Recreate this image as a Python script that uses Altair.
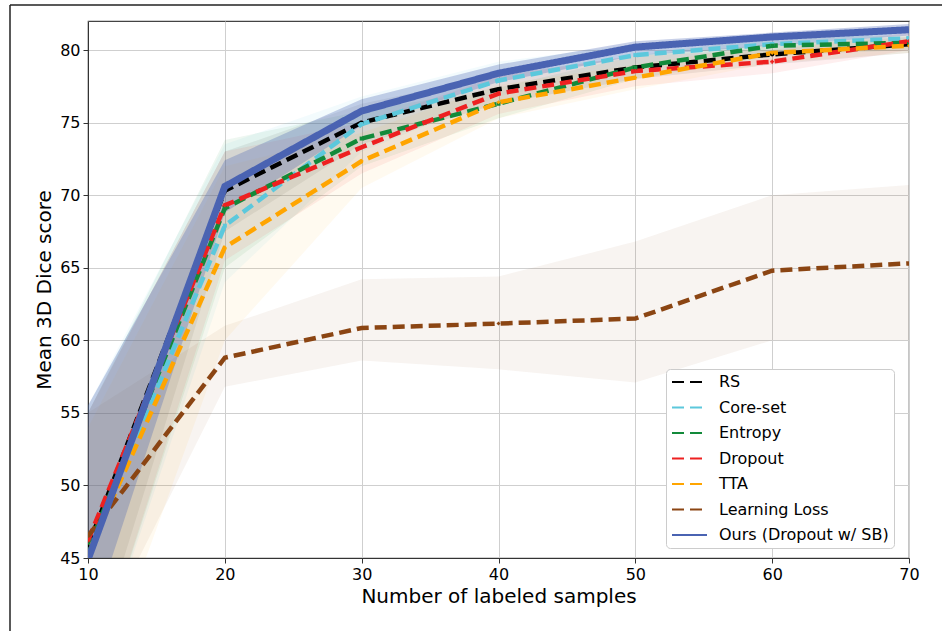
import altair as alt
import pandas as pd

# ---------------- data ----------------
x_vals = [10, 20, 30, 40, 50, 60, 70]
series_names = ["RS", "Core-set", "Entropy", "Dropout", "TTA",
                "Learning Loss", "Ours (Dropout w/ SB)"]

rs_mean      = [45.8, 70.3, 75.0, 77.3, 78.8, 79.7, 80.4]
coreset_mean = [45.3, 67.9, 74.9, 77.9, 79.65, 80.4, 80.8]
entropy_mean = [45.6, 69.1, 73.9, 76.3, 78.8, 80.3, 80.5]
dropout_mean = [46.2, 69.3, 73.3, 77.0, 78.55, 79.2, 80.6]
tta_mean     = [45.3, 66.4, 72.35, 76.4, 78.1, 79.8, 80.3]
ll_mean      = [46.5, 58.8, 60.85, 61.15, 61.5, 64.8, 65.3]
ours_mean    = [44.9, 70.6, 75.8, 78.4, 80.2, 80.9, 81.4]

rs_lo      = [37.0, 67.5, 73.5, 76.3, 78.0, 79.0, 79.8]
rs_hi      = [55.0, 73.0, 76.3, 78.3, 79.6, 80.4, 80.9]
coreset_lo = [36.0, 64.0, 73.0, 76.8, 78.8, 79.8, 80.2]
coreset_hi = [55.5, 73.5, 76.8, 79.2, 80.4, 81.0, 81.3]
entropy_lo = [36.0, 65.0, 72.0, 75.3, 78.0, 79.6, 80.0]
entropy_hi = [55.0, 73.8, 75.8, 77.4, 79.6, 80.9, 81.0]
dropout_lo = [36.0, 65.5, 71.5, 75.6, 77.5, 78.4, 80.0]
dropout_hi = [55.0, 73.0, 75.0, 78.2, 79.6, 80.0, 81.2]
tta_lo     = [34.0, 60.0, 70.5, 75.3, 77.3, 79.1, 79.8]
tta_hi     = [54.0, 72.0, 74.3, 77.6, 79.0, 80.4, 80.8]
ll_lo      = [38.0, 56.8, 58.6, 58.0, 57.1, 60.0, 60.0]
ll_hi      = [55.0, 61.0, 64.2, 64.4, 66.8, 70.0, 70.7]
ours_lo    = [40.0, 68.8, 74.8, 77.8, 79.6, 80.3, 81.0]
ours_hi    = [55.5, 72.4, 76.6, 79.0, 80.6, 81.2, 81.8]

means = [rs_mean, coreset_mean, entropy_mean, dropout_mean, tta_mean, ll_mean, ours_mean]
lows = [rs_lo, coreset_lo, entropy_lo, dropout_lo, tta_lo, ll_lo, ours_lo]
highs = [rs_hi, coreset_hi, entropy_hi, dropout_hi, tta_hi, ll_hi, ours_hi]

colors = ["#000000", "#5cc8dc", "#128a3a", "#ee2020", "#ffa500", "#8b4513", "#4a63b2"]
dashes = [[12, 6]] * 6 + [[1, 0]]
shapes = ["circle", "square", "square", "cross", "diamond", "diamond", "circle"]
band_opacity = [0.07, 0.07, 0.07, 0.07, 0.06, 0.06, 0.3]
y_ticks = [45, 50, 55, 60, 65, 70, 75, 80]

rows = []
for i, name in enumerate(series_names):
    for j, xv in enumerate(x_vals):
        rows.append({"series": name, "order": i, "x": xv,
                     "y": means[i][j], "lo": lows[i][j], "hi": highs[i][j],
                     "col": colors[i], "op": band_opacity[i], "shp": shapes[i]})
df = pd.DataFrame(rows)
df_dashed = df[df["series"] != series_names[-1]]
df_ours = df[df["series"] == series_names[-1]]

# ---------------- encodings ----------------
cscale = alt.Scale(domain=series_names, range=colors)
dscale = alt.Scale(domain=series_names, range=dashes)

xaxis = alt.Axis(values=x_vals, format="d", title="Number of labeled samples",
                 labelFlush=False, grid=True)
yaxis = alt.Axis(values=y_ticks, format="d", title="Mean 3D Dice score", grid=True)
xscale = alt.Scale(domain=[10, 70], nice=False, zero=False)
yscale = alt.Scale(domain=[45, 82], nice=False, zero=False)

X = alt.X("x:Q", scale=xscale, axis=xaxis, title="Number of labeled samples")

leg = alt.Legend(title=None, orient="none", legendX=578, legendY=348,
                 fillColor="white", strokeColor="#cccccc", cornerRadius=4,
                 padding=5, rowPadding=9.5, labelFontSize=16, labelOffset=32,
                 symbolType="M-1,0H4", symbolSize=196, symbolStrokeWidth=2,
                 labelLimit=400, labelColor="#000000")

bands = alt.Chart(df).mark_area(clip=True).encode(
    x=X,
    y=alt.Y("lo:Q", scale=yscale, axis=yaxis, title="Mean 3D Dice score"),
    y2="hi:Q",
    color=alt.Color("col:N", scale=None),
    opacity=alt.Opacity("op:Q", scale=None),
    detail="series:N",
)

dashed = alt.Chart(df_dashed).mark_line(clip=True, strokeWidth=4.5).encode(
    x=X,
    y=alt.Y("y:Q", scale=yscale, axis=yaxis, title="Mean 3D Dice score"),
    color=alt.Color("series:N", scale=cscale, legend=leg),
    strokeDash=alt.StrokeDash("series:N", scale=dscale, legend=leg),
    order="order:Q",
)

points = alt.Chart(df_dashed).mark_point(clip=True, filled=True, size=16, opacity=1).encode(
    x=X,
    y=alt.Y("y:Q", scale=yscale, axis=yaxis, title="Mean 3D Dice score"),
    color=alt.Color("col:N", scale=None),
    shape=alt.Shape("shp:N", scale=None),
)

ours = alt.Chart(df_ours).mark_line(clip=True, strokeWidth=7).encode(
    x=X,
    y=alt.Y("y:Q", scale=yscale, axis=yaxis, title="Mean 3D Dice score"),
    color=alt.Color("series:N", scale=cscale, legend=leg),
    strokeDash=alt.StrokeDash("series:N", scale=dscale, legend=leg),
)

# figure frame (decoration of the original figure border)
frame_df = pd.DataFrame({"k": [0]})
frame_left = alt.Chart(frame_df).mark_rule(color="#222222", strokeWidth=1.5).encode(
    x=alt.value(-78), y=alt.value(-16), y2=alt.value(700))
frame_top = alt.Chart(frame_df).mark_rule(color="#222222", strokeWidth=1.5).encode(
    x=alt.value(-78), x2=alt.value(900), y=alt.value(-16))

chart = alt.layer(bands, dashed, points, ours, frame_left, frame_top).properties(
    width=821, height=537,
    autosize=alt.AutoSizeParams(type="none"),
    padding={"left": 88, "top": 21, "right": 33, "bottom": 73},
    background="white",
).configure(
    font="DejaVu Sans",
).configure_axis(
    labelFontSize=16, titleFontSize=20, titleFontWeight="normal",
    labelColor="#000000", titleColor="#000000",
    gridColor="#cfcfcf", gridWidth=1,
    domainColor="#333333", tickColor="#333333", tickSize=5,
    labelPadding=3,
).configure_axisX(titlePadding=4).configure_axisY(titlePadding=5).configure_view(
    stroke="#444444", strokeWidth=1.2,
)

chart.save("out.html", embed_options={"renderer": "svg", "actions": False})
